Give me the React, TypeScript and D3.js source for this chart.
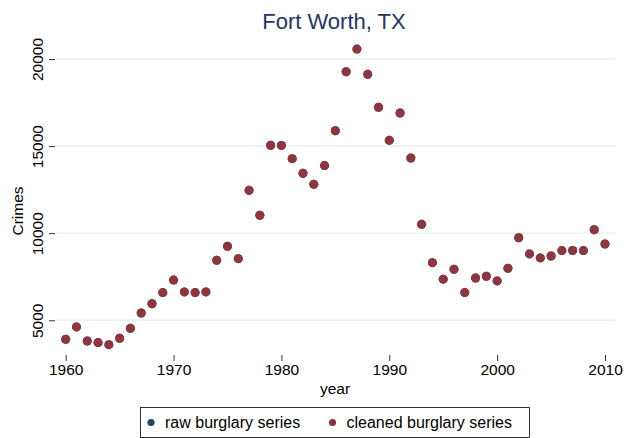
import * as d3 from 'd3'
import React, { useRef, useEffect } from 'react'

const years = [
  1960, 1961, 1962, 1963, 1964, 1965, 1966, 1967, 1968, 1969, 1970, 1971, 1972, 1973, 1974, 1975, 1976,
  1977, 1978, 1979, 1980, 1981, 1982, 1983, 1984, 1985, 1986, 1987, 1988, 1989, 1990, 1991, 1992, 1993,
  1994, 1995, 1996, 1997, 1998, 1999, 2000, 2001, 2002, 2003, 2004, 2005, 2006, 2007, 2008, 2009, 2010,
]

// raw series sits underneath the cleaned one (same values here)
const rawBurglary = [
  3910, 4620, 3810, 3720, 3600, 3970, 4540, 5420, 5950, 6590, 7310, 6630, 6590, 6630, 8450, 9250, 8540,
  12460, 11030, 15050, 15040, 14280, 13440, 12810, 13880, 15880, 19270, 20570, 19120, 17230, 15330, 16900, 14320, 10510,
  8310, 7360, 7930, 6590, 7430, 7530, 7260, 7990, 9740, 8810, 8580, 8690, 9000, 9010, 9000, 10200, 9380,
]

const cleanedBurglary = [
  3910, 4620, 3810, 3720, 3600, 3970, 4540, 5420, 5950, 6590, 7310, 6630, 6590, 6630, 8450, 9250, 8540,
  12460, 11030, 15050, 15040, 14280, 13440, 12810, 13880, 15880, 19270, 20570, 19120, 17230, 15330, 16900, 14320, 10510,
  8310, 7360, 7930, 6590, 7430, 7530, 7260, 7990, 9740, 8810, 8580, 8690, 9000, 9010, 9000, 10200, 9380,
]

const xTicks = [1960, 1970, 1980, 1990, 2000, 2010]
const yTicks = [5000, 10000, 15000, 20000]
const legendLabels = ['raw burglary series', 'cleaned burglary series']

const App = () => {
  const ref = useRef(null)

  useEffect(() => {
    draw()
  }, [])

  const draw = () => {
    const totalWidth = 635
    const totalHeight = 438
    const font = 'Liberation Sans, Arial, sans-serif'
    const labelSize = 15.5
    const rawColor = '#1a476f'
    const cleanColor = '#90353b'

    const svg = d3.select(ref.current).attr('width', totalWidth).attr('height', totalHeight)
    svg.selectAll('*').remove()

    svg.append('rect').attr('width', totalWidth).attr('height', totalHeight).attr('fill', '#ffffff')

    const xScale = d3.scaleLinear().domain([1960, 2010]).range([65.7, 605])
    const yScale = d3.scaleLinear().domain([5000, 20000]).range([320.3, 59])

    // horizontal grid
    svg
      .selectAll('.grid')
      .data(yTicks)
      .enter()
      .append('line')
      .attr('class', 'grid')
      .attr('x1', 55)
      .attr('x2', 615)
      .attr('y1', (d) => yScale(d))
      .attr('y2', (d) => yScale(d))
      .attr('stroke', '#eaf2f3')
      .attr('stroke-width', 1.6)

    // y axis
    const yAxis = d3
      .axisLeft(yScale)
      .tickValues(yTicks)
      .tickSize(6)
      .tickPadding(5)
      .tickFormat((d: any) => `${d}`)

    const yg = svg.append('g').attr('transform', 'translate(55,0)').call(yAxis)
    yg.select('.domain').remove()
    yg.selectAll('.tick line').attr('stroke', '#000').attr('stroke-width', 0.8)
    yg.selectAll('.tick text')
      .attr('font-family', font)
      .attr('font-size', labelSize)
      .attr('fill', '#000')
      .attr('text-anchor', 'middle')
      .attr('x', 0)
      .attr('dy', 0)
      .attr('transform', 'translate(-12,0) rotate(-90)')

    // x axis
    const xAxis = d3
      .axisBottom(xScale)
      .tickValues(xTicks)
      .tickSize(6)
      .tickPadding(3)
      .tickFormat((d: any) => `${d}`)

    const xg = svg.append('g').attr('transform', 'translate(0,355)').call(xAxis)
    xg.select('.domain').remove()
    xg.selectAll('.tick line').attr('stroke', '#000').attr('stroke-width', 0.8)
    xg.selectAll('.tick text').attr('font-family', font).attr('font-size', labelSize).attr('fill', '#000')

    // axis titles
    svg
      .append('text')
      .attr('x', 335)
      .attr('y', 394)
      .attr('text-anchor', 'middle')
      .attr('font-family', font)
      .attr('font-size', labelSize)
      .text('year')

    svg
      .append('text')
      .attr('transform', 'translate(23,211) rotate(-90)')
      .attr('text-anchor', 'middle')
      .attr('font-family', font)
      .attr('font-size', labelSize)
      .text('Crimes')

    // title
    svg
      .append('text')
      .attr('x', 334)
      .attr('y', 29)
      .attr('text-anchor', 'middle')
      .attr('font-family', font)
      .attr('font-size', 22)
      .attr('fill', '#1e3765')
      .text('Fort Worth, TX')

    // points
    svg
      .append('g')
      .selectAll('circle')
      .data(rawBurglary)
      .enter()
      .append('circle')
      .attr('cx', (d, i) => xScale(years[i]))
      .attr('cy', (d) => yScale(d))
      .attr('r', 4.5)
      .attr('fill', rawColor)

    svg
      .append('g')
      .selectAll('circle')
      .data(cleanedBurglary)
      .enter()
      .append('circle')
      .attr('cx', (d, i) => xScale(years[i]))
      .attr('cy', (d) => yScale(d))
      .attr('r', 4.5)
      .attr('fill', cleanColor)

    // legend
    const legend = svg.append('g')
    legend
      .append('rect')
      .attr('x', 140.5)
      .attr('y', 407.5)
      .attr('width', 389)
      .attr('height', 30)
      .attr('fill', '#fff')
      .attr('stroke', '#000')
      .attr('stroke-width', 0.8)

    const entryX = [151, 332.5]
    const colors = [rawColor, cleanColor]
    legendLabels.forEach((label, i) => {
      legend.append('circle').attr('cx', entryX[i]).attr('cy', 422.5).attr('r', 3.6).attr('fill', colors[i])
      legend
        .append('text')
        .attr('x', entryX[i] + 14)
        .attr('y', 428)
        .attr('font-family', font)
        .attr('font-size', 16)
        .text(label)
    })
  }

  return (
    <div style={{ position: 'absolute', left: 0, top: 0 }}>
      <svg ref={ref} style={{ display: 'block' }} />
    </div>
  )
}

export default App
